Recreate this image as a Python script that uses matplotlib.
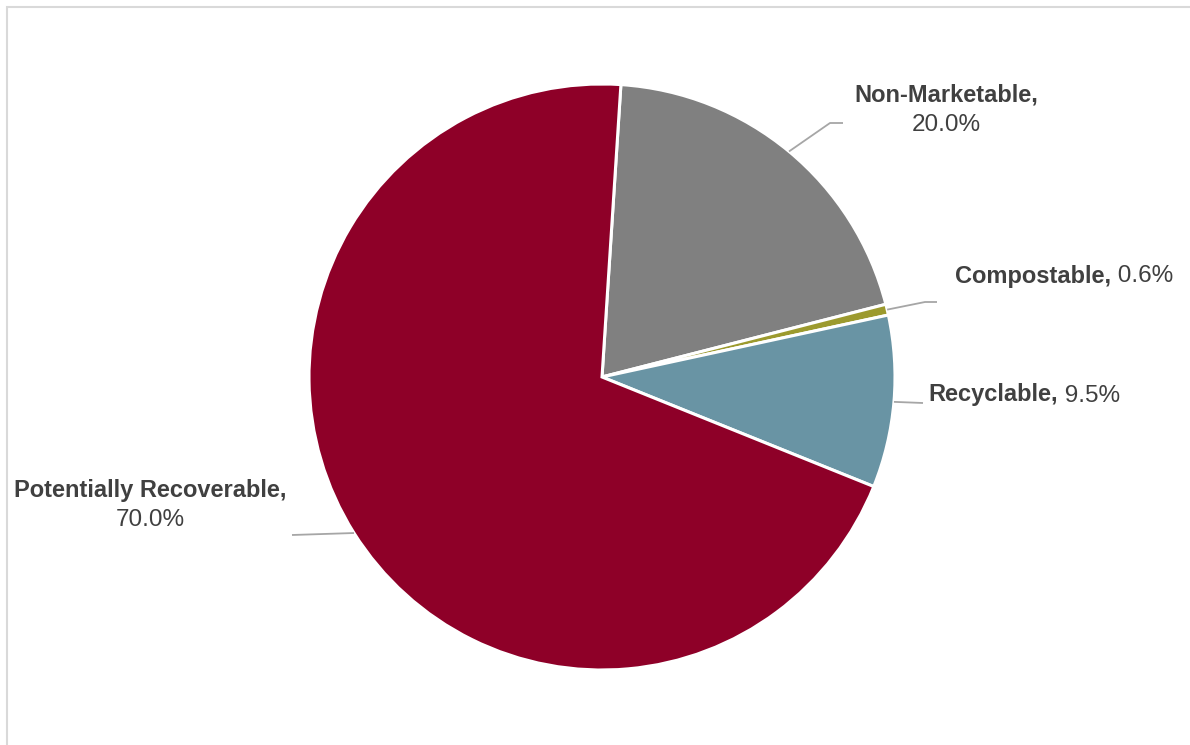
import numpy as np
import matplotlib
matplotlib.use("Agg")
import matplotlib.pyplot as plt
from matplotlib.patches import Rectangle

categories = ["Non-Marketable", "Compostable", "Recyclable", "Potentially Recoverable"]
values = [20.0, 0.6, 9.5, 70.0]
value_labels = ["20.0%", "0.6%", "9.5%", "70.0%"]
colors = ["#808080", "#9C9A2E", "#6994A4", "#8E0028"]

W, H = 1190, 745
fig = plt.figure(figsize=(W / 100, H / 100), dpi=100)
ax = fig.add_axes([0, 0, 1, 1])

# chart frame
ax.add_patch(Rectangle((7, -10), W + 20, H - 7 + 10, fill=False,
                       edgecolor="#D9D9D9", linewidth=1.5))

cx, cy, r = 602, H - 377, 293
wedges, _ = ax.pie(values, colors=colors, startangle=86.3, counterclock=False,
                   center=(cx, cy), radius=r, frame=True,
                   wedgeprops=dict(edgecolor="white", linewidth=2.2))
ax.set_xlim(0, W)
ax.set_ylim(0, H)
ax.set_aspect("equal")
ax.axis("off")

txt_color = "#404040"
fs_name = 17
fs_val = 17.5
fam = ["Liberation Sans", "DejaVu Sans"]
name_weight = "bold"
line_color = "#A6A6A6"

def mid_point(w):
    a = np.deg2rad((w.theta1 + w.theta2) / 2)
    return cx + r * np.cos(a), cy + r * np.sin(a)

# leader line elbows / ends (layout)
leaders = [
    [(830, H - 123), (843, H - 123)],
    [(925, H - 302), (937, H - 302)],
    [(923, H - 403)],
    [(292, H - 535)],
]
for w, pts in zip(wedges, leaders):
    x0, y0 = mid_point(w)
    xs = [x0] + [p[0] for p in pts]
    ys = [y0] + [p[1] for p in pts]
    ax.plot(xs, ys, color=line_color, lw=1.3, solid_capstyle="butt")

# Two-line labels
ax.text(946, H - 95, categories[0] + ",", ha="center", va="center", fontsize=fs_name,
        color=txt_color, family=fam, fontweight=name_weight)
ax.text(946, H - 125, value_labels[0], ha="center", va="center", fontsize=fs_val,
        color=txt_color, family=fam)
ax.text(150, H - 491, categories[3] + ",", ha="center", va="center", fontsize=fs_name,
        color=txt_color, family=fam, fontweight=name_weight)
ax.text(150, H - 520, value_labels[3], ha="center", va="center", fontsize=fs_val,
        color=txt_color, family=fam)

# One-line labels
for i, (x, y) in [(1, (955, H - 276)), (2, (928, H - 395))]:
    t = ax.text(x, y, categories[i] + ",", ha="left", va="center", fontsize=fs_name,
                color=txt_color, family=fam, fontweight=name_weight)
    ax.annotate(" " + value_labels[i], xy=(1, 0), xycoords=t, ha="left", va="bottom",
                fontsize=fs_val, color=txt_color, family=fam)

fig.savefig("out.png", dpi=100)
